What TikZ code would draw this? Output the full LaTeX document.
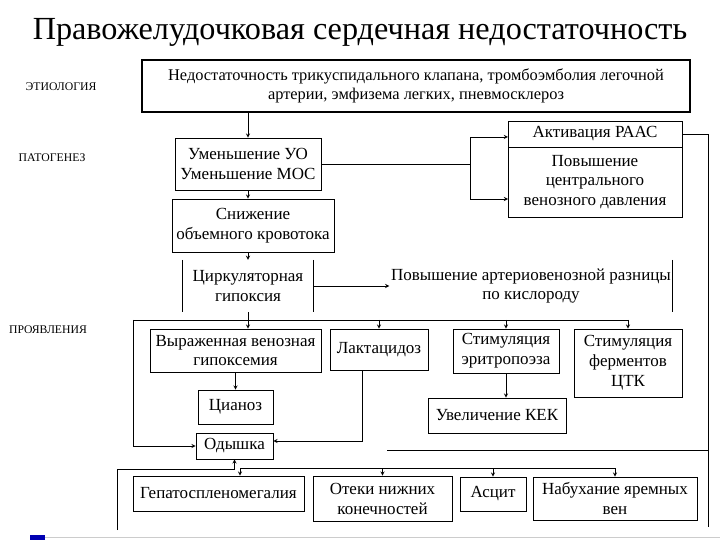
\documentclass[tikz,border=0pt]{standalone}
\usepackage{fontspec}
\setmainfont{Liberation Serif}
\usetikzlibrary{calc}
\tikzset{
   blk/.style={draw=black, line width=0.7pt, inner sep=1pt, align=center,
      font=\fontsize{14.5}{17}\selectfont},
   bare/.style={inner sep=1pt, align=center, font=\fontsize{14.5}{17}\selectfont},
   sz/.style args={#1x#2}{minimum width=#1*0.03cm, minimum height=#2*0.03cm},
   arr/.style={->, >=stealth, line width=0.6pt},
   ln/.style={line width=0.6pt},
   lbl/.style={font=\fontsize{10}{12}\selectfont},
    }

\begin{document}
\begin{tikzpicture}[x=0.03cm, y=-0.03cm]
            \useasboundingbox (0,0) rectangle (720,540);
            \node[font=\fontsize{27.5}{30}\selectfont] (title) at (360,32) {Правожелудочковая сердечная недостаточность};
            \node[lbl] (etio) at (61,87) {ЭТИОЛОГИЯ};
            \node[lbl] (pato) at (52,158) {ПАТОГЕНЕЗ};
            \node[lbl] (proyav) at (48,330) {ПРОЯВЛЕНИЯ};

            \node[blk, sz=548x52, line width=1.2pt, font=\fontsize{14}{16.5}\selectfont] (top) at (416,86)
                {Недостаточность трикуспидального клапана, тромбоэмболия легочной\\артерии, эмфизема легких, пневмосклероз};
            \node[blk, sz=146x52] (umen) at (248,164) {Уменьшение УО\\Уменьшение МОС};
            \node[blk, sz=162x53] (snizh) at (253,225.5) {Снижение\\объемного кровотока};
            \node[blk, sz=174x26] (raas) at (595,134) {Активация РААС};
            \node[blk, sz=174x70] (cvd) at (595,182) {Повышение\\центрального\\венозного давления};
            \node[bare, sz=130x52] (gipox) at (248,286) {Циркуляторная\\гипоксия};
            \node[bare, sz=283x52] (arvd) at (531,286) {Повышение артериовенозной разницы\\по кислороду};
            \node[blk, sz=171x43] (vyr) at (235.5,350.5) {Выраженная венозная\\гипоксемия};
            \node[blk, sz=98x41] (lakt) at (379,349.5) {Лактацидоз};
            \node[blk, sz=106x44] (erit) at (506,351) {Стимуляция\\эритропоэза};
            \node[blk, sz=108x68] (ferm) at (628,363) {Стимуляция\\ферментов\\ЦТК};
            \node[blk, sz=138x35] (kek) at (497,415.5) {Увеличение КЕК};
            \node[blk, sz=75x34] (cian) at (235.5,407) {Цианоз};
            \node[blk, sz=77x26] (odysh) at (234.5,446) {Одышка};
            \node[blk, sz=171x35] (gepat) at (218.5,493.5) {Гепатоспленомегалия};
            \node[blk, sz=139x45] (otek) at (382.5,498.5) {Отеки нижних\\конечностей};
            \node[blk, sz=66x34] (ascit) at (493,494) {Асцит};
            \node[blk, sz=164x43] (nabuh) at (615,498.5) {Набухание яремных\\вен};

            \draw[ln] (gipox.north west) -- (gipox.south west);
            \draw[ln] (gipox.north east) -- (gipox.south east);
            \draw[ln] (arvd.north east) -- (arvd.south east);

            \coordinate (split) at (470,0);
            \coordinate (raasin) at (508,137);
            \coordinate (cvdin) at (508,199);
            \coordinate (busl) at (133,320);
            \coordinate (lakdown) at (362,441);
            \coordinate (rside) at (708,527);
            \coordinate (midl) at (387,450);
            \coordinate (lowl) at (117,530);
            \coordinate (lowbus) at (117,469);
            \coordinate (botl) at (240,468);

            \draw[arr] (top.south -| umen) -- (umen.north);
            \draw[arr] (umen.south) -- (umen.south |- snizh.north);
            \draw[ln] (umen.east) -- (umen.east -| split);
            \draw[arr] (umen.east -| split) |- (raasin);
            \draw[arr] (umen.east -| split) |- (cvdin);
            \draw[arr] (snizh.south -| gipox) -- (gipox.north);
            \draw[arr] (gipox.east) -- (arvd.west);
            \draw[arr] (gipox.south) -- (gipox.south |- vyr.north);
            \draw[ln] (busl) -- (busl -| ferm.north);
            \draw[arr] (lakt.north |- busl) -- (lakt.north);
            \draw[arr] (erit.north |- busl) -- (erit.north);
            \draw[arr] (ferm.north |- busl) -- (ferm.north);
            \draw[arr] (busl) |- (odysh.west);
            \draw[arr] (vyr.south -| cian) -- (cian.north);
            \draw[arr] (erit.south) -- (erit.south |- kek.north);
            \draw[arr] (lakt.south -| lakdown) -- (lakdown) -- (lakdown -| odysh.east);
            \draw[ln] (raas.east) -- (raas.east -| rside) -- (rside);
            \draw[ln] (midl -| rside) -- (midl);
            \draw[arr] (lowl) -- (lowbus) -| (odysh.south);
            \draw[ln] (botl) -- (botl -| nabuh.north);
            \draw[arr] (botl) -- (botl |- gepat.north);
            \draw[arr] (otek.north |- botl) -- (otek.north);
            \draw[arr] (ascit.north |- botl) -- (ascit.north);
            \draw[arr] (nabuh.north |- botl) -- (nabuh.north);

            \draw[gray!40] (30,537) -- (720,537);
            \fill[blue!70!black] (30,535) rectangle (45,540);
\end{tikzpicture}
\end{document}
